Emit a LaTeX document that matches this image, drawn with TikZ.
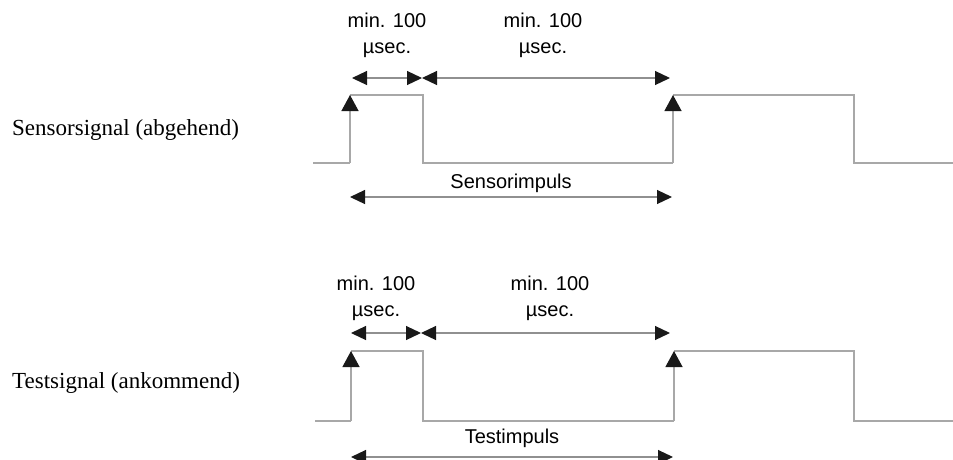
\documentclass[tikz,border=0pt]{standalone}
\usepackage{fontspec}
\setmainfont{Liberation Serif}
\setsansfont{Liberation Sans}
\usetikzlibrary{arrows.meta}
\definecolor{sig}{HTML}{A8A8A8}
\definecolor{dim}{HTML}{909090}
\begin{document}
\begin{tikzpicture}[x=1pt,y=-1pt,
  signal/.style={draw=sig,line width=1.3pt},
  edge/.style={draw=sig,line width=1.3pt,-{Triangle[length=16pt,width=17pt,fill=black!90,color=black!90]}},
  dimline/.style={draw=dim,line width=1.2pt,{Triangle[length=15pt,width=14pt,fill=black!90,color=black!90]}-{Triangle[length=15pt,width=14pt,fill=black!90,color=black!90]}},
  sanslabel/.style={font=\sffamily\fontsize{20}{26}\selectfont,align=center,inner sep=0pt},
  seriflabel/.style={font=\rmfamily\fontsize{23}{26}\selectfont,anchor=west,inner sep=0pt}]
\useasboundingbox (0,0) rectangle (953,459);

% ---------- Sensorsignal ----------
\node[seriflabel] (lab1) at (12,130) {Sensorsignal (abgehend)};
\coordinate (a0) at (313,163);
\coordinate (a1) at (350,163);
\coordinate (a2) at (350,95);
\coordinate (a3) at (423,95);
\coordinate (a4) at (423,163);
\coordinate (a5) at (673,163);
\coordinate (a6) at (673,95);
\coordinate (a7) at (854,95);
\coordinate (a8) at (854,163);
\coordinate (a9) at (953,163);
\draw[signal] (a0) -- (a1) (a2) -- (a3) -- (a4) -- (a5) (a6) -- (a7) -- (a8) -- (a9);
\draw[edge] (a1) -- (a2);
\draw[edge] (a5) -- (a6);

\coordinate (d1) at (352,78);
\coordinate (d2) at (422,78);
\coordinate (d3) at (670,78);
\draw[dimline] (d1) -- (d2);
\draw[dimline] (d2) -- (d3);
\node[sanslabel] (t1) at (387,35) {min. 100\\µsec.};
\node[sanslabel] (t2) at (543,35) {min. 100\\µsec.};

\coordinate (s1) at (350,197);
\coordinate (s2) at (672,197);
\draw[dimline] (s1) -- (s2);
\node[sanslabel] (si) at (511,183) {Sensorimpuls};

% ---------- Testsignal ----------
\node[seriflabel] (lab2) at (12,383) {Testsignal (ankommend)};
\coordinate (b0) at (315,421);
\coordinate (b1) at (351,421);
\coordinate (b2) at (351,351);
\coordinate (b3) at (423,351);
\coordinate (b4) at (423,421);
\coordinate (b5) at (674,421);
\coordinate (b6) at (674,351);
\coordinate (b7) at (854,351);
\coordinate (b8) at (854,421);
\coordinate (b9) at (953,421);
\draw[signal] (b0) -- (b1) (b2) -- (b3) -- (b4) -- (b5) (b6) -- (b7) -- (b8) -- (b9);
\draw[edge] (b1) -- (b2);
\draw[edge] (b5) -- (b6);

\coordinate (e1) at (351,333);
\coordinate (e2) at (421,333);
\coordinate (e3) at (670,333);
\draw[dimline] (e1) -- (e2);
\draw[dimline] (e2) -- (e3);
\node[sanslabel] (u1) at (376,298) {min. 100\\µsec.};
\node[sanslabel] (u2) at (550,298) {min. 100\\µsec.};

\coordinate (f1) at (351,457);
\coordinate (f2) at (673,457);
\draw[dimline] (f1) -- (f2);
\node[sanslabel] (ti) at (512,438) {Testimpuls};
\end{tikzpicture}
\end{document}
